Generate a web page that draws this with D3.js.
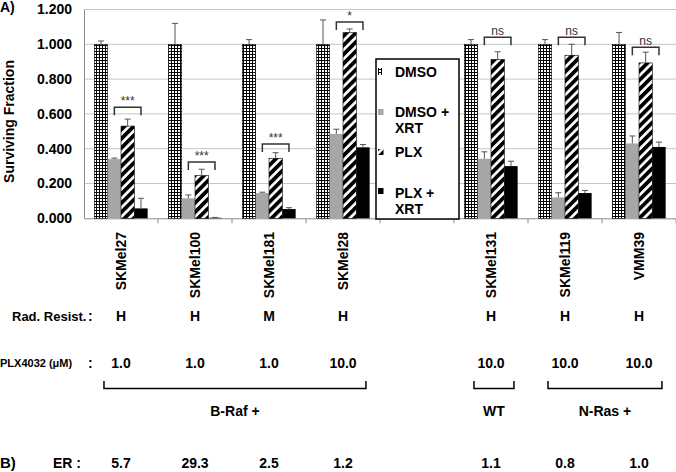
<!DOCTYPE html>
<html>
<head>
<meta charset="utf-8">
<script src="https://cdn.jsdelivr.net/npm/d3@7"></script>
<style>
  html, body { margin: 0; padding: 0; background: #fff; }
  svg { display: block; }
  text { font-family: "Liberation Sans", Arial, sans-serif; }
</style>
</head>
<body>
<svg id="chart" width="676" height="472"></svg>
<script>
// ---------- data ----------
const categories = ["SKMel27", "SKMel100", "SKMel181", "SKMel28", "", "SKMel131", "SKMel119", "VMM39"];
const seriesNames = ["DMSO", "DMSO + XRT", "PLX", "PLX + XRT"];
const dmso      = [1.000, 1.000, 1.000, 1.000, null, 1.000, 1.000, 1.000];
const dmsoXrt   = [0.340, 0.115, 0.145, 0.485, null, 0.342, 0.120, 0.430];
const plx       = [0.530, 0.245, 0.345, 1.068, null, 0.913, 0.937, 0.893];
const plxXrt    = [0.057, 0.003, 0.053, 0.408, null, 0.300, 0.145, 0.410];
const dmsoErr    = [0.019, 0.120, 0.027, 0.140, null, 0.027, 0.027, 0.068];
const dmsoXrtErr = [0.006, 0.019, 0.005, 0.027, null, 0.040, 0.027, 0.043];
const plxErr     = [0.040, 0.037, 0.032, 0.020, null, 0.044, 0.063, 0.062];
const plxXrtErr  = [0.058, 0.002, 0.008, 0.016, null, 0.028, 0.015, 0.028];
const sigLabels  = ["***", "***", "***", "*", null, "ns", "ns", "ns"];
const sigLevels  = [0.638, 0.324, 0.427, 1.128, null, 1.040, 1.040, 0.983];
const yTicks = [0, 0.2, 0.4, 0.6, 0.8, 1.0, 1.2];
const radResist = ["H", "H", "M", "H", null, "H", "H", "H"];
const plxDose   = ["1.0", "1.0", "1.0", "10.0", null, "10.0", "10.0", "10.0"];
const erValues  = ["5.7", "29.3", "2.5", "1.2", null, "1.1", "0.8", "1.0"];
const groupNames = ["B-Raf +", "WT", "N-Ras +"];
const groupFrom  = ["SKMel27", "SKMel131", "SKMel119"];
const groupTo    = ["SKMel28", "SKMel131", "VMM39"];

const seriesValues = [dmso, dmsoXrt, plx, plxXrt];
const seriesErrors = [dmsoErr, dmsoXrtErr, plxErr, plxXrtErr];

// ---------- setup ----------
const svg = d3.select("#chart");
const plotLeft = 84, plotRight = 676, plotTop = 9.5, plotBottom = 218.3;
const x = d3.scaleBand().domain(categories).range([plotLeft, plotRight]).padding(0);
const bw = x.bandwidth();
const xs = d3.scaleBand().domain(seriesNames).range([bw * 0.14, bw * 0.86]).padding(0);
const y = d3.scaleLinear().domain([0, 1.2]).range([plotBottom, plotTop]);

// patterns
const defs = svg.append("defs");
const grid = defs.append("pattern").attr("id", "grid").attr("patternUnits", "userSpaceOnUse")
  .attr("width", 3).attr("height", 3);
grid.append("rect").attr("width", 3).attr("height", 3).attr("fill", "#fff");
grid.append("rect").attr("x", 0).attr("y", 0).attr("width", 1).attr("height", 3).attr("fill", "#000");
grid.append("rect").attr("x", 0).attr("y", 0).attr("width", 3).attr("height", 1).attr("fill", "#000");
const hatch = defs.append("pattern").attr("id", "hatch").attr("patternUnits", "userSpaceOnUse")
  .attr("width", 6.5).attr("height", 6.5).attr("patternTransform", "rotate(45)");
hatch.append("rect").attr("width", 6.5).attr("height", 6.5).attr("fill", "#fff");
hatch.append("rect").attr("x", 0).attr("width", 3.8).attr("height", 6.5).attr("fill", "#000");

const fills = ["url(#grid)", "#a6a6a6", "url(#hatch)", "#000"];
const strokes = ["#000", "none", "#000", "none"];

// gridlines
svg.append("g").selectAll("line").data(yTicks.filter(d => d > 0)).join("line")
  .attr("x1", plotLeft).attr("x2", plotRight).attr("y1", d => y(d)).attr("y2", d => y(d))
  .attr("stroke", "#c6c6c6").attr("stroke-width", 1);

// y axis
const yAxis = svg.append("g").attr("transform", `translate(${plotLeft},0)`)
  .call(d3.axisLeft(y).tickValues(yTicks).tickFormat(d3.format(".3f")).tickSize(0).tickPadding(12));
yAxis.select(".domain").attr("stroke", "#8c8c8c");
yAxis.selectAll("text").attr("font-size", 14).attr("font-weight", "bold")
  .attr("font-family", "Liberation Sans, Arial, sans-serif").attr("fill", "#000");

// x axis
const xAxis = svg.append("g").attr("transform", `translate(0,${plotBottom})`)
  .call(d3.axisBottom(x).tickSize(0).tickFormat(""));
xAxis.select(".domain").attr("stroke", "#8c8c8c");
svg.append("g").selectAll("line").data(categories.slice(1).map(c => x(c)).concat([plotRight]))
  .join("line").attr("x1", d => d).attr("x2", d => d).attr("y1", plotBottom).attr("y2", plotBottom + 5)
  .attr("stroke", "#8c8c8c");

// bars
seriesNames.forEach((s, si) => {
  const g = svg.append("g");
  categories.forEach((c, ci) => {
    const v = seriesValues[si][ci];
    if (v == null) return;
    const bx = x(c) + xs(s);
    g.append("rect").attr("x", bx).attr("y", y(v)).attr("width", xs.bandwidth())
      .attr("height", y(0) - y(v)).attr("fill", fills[si])
      .attr("stroke", strokes[si]).attr("stroke-width", 0.6);
  });
});

// error bars
seriesNames.forEach((s, si) => {
  const g = svg.append("g").attr("stroke", "#555").attr("stroke-width", 1);
  categories.forEach((c, ci) => {
    const v = seriesValues[si][ci], e = seriesErrors[si][ci];
    if (v == null) return;
    const cx = x(c) + xs(s) + xs.bandwidth() / 2;
    g.append("line").attr("x1", cx).attr("x2", cx).attr("y1", y(v)).attr("y2", y(v + e));
    g.append("line").attr("x1", cx - 3).attr("x2", cx + 3).attr("y1", y(v + e)).attr("y2", y(v + e));
  });
});

// significance brackets
categories.forEach((c, ci) => {
  if (sigLabels[ci] == null) return;
  const x1 = x(c) + xs("DMSO + XRT") + xs.bandwidth() / 2;
  const x2 = x(c) + xs("PLX + XRT") + xs.bandwidth() / 2;
  const yy = y(sigLevels[ci]);
  svg.append("path").attr("d", `M${x1},${yy + 8}V${yy}H${x2}V${yy + 8}`)
    .attr("fill", "none").attr("stroke", "#333").attr("stroke-width", 1.5);
  svg.append("text").attr("x", (x1 + x2) / 2).attr("y", yy - 2)
    .attr("text-anchor", "middle").attr("font-size", 12).attr("fill", "#333")
    .text(sigLabels[ci]);
});

// y title
svg.append("text").attr("transform", "translate(14,121.5) rotate(-90)")
  .attr("text-anchor", "middle").attr("font-size", 14).attr("font-weight", "bold")
  .text("Surviving Fraction");

// panel label A)
svg.append("text").attr("x", 0).attr("y", 12).attr("font-family", "Liberation Serif, Times New Roman, serif")
  .attr("font-size", 14).attr("font-weight", "bold").text("A)");

// category labels
svg.append("g").selectAll("text").data(categories.filter(c => c !== "")).join("text")
  .attr("transform", d => `translate(${x(d) + bw / 2 + 5},232) rotate(-90)`)
  .attr("text-anchor", "end").attr("font-size", 14).attr("font-weight", "bold").text(d => d);

// legend
const lg = svg.append("g");
lg.append("rect").attr("x", 376).attr("y", 59).attr("width", 83).attr("height", 160)
  .attr("fill", "#fff").attr("stroke", "#000").attr("stroke-width", 1.5);
const legendLines = [["DMSO"], ["DMSO +", "XRT"], ["PLX"], ["PLX +", "XRT"]];
const legendY = [77, 117, 157, 198];
const swatchY = [68, 109, 149, 188];
seriesNames.forEach((s, i) => {
  lg.append("rect").attr("x", 378).attr("y", swatchY[i]).attr("width", i === 0 ? 4 : 5.5)
    .attr("height", i === 0 ? 7 : 6).attr("fill", fills[i]);
  legendLines[i].forEach((t, j) => {
    lg.append("text").attr("x", 395).attr("y", legendY[i] + j * 16)
      .attr("font-size", 14).attr("font-weight", "bold").text(t);
  });
});

// table rows
const rowValues = (vals, yy) => svg.append("g").selectAll("text")
  .data(categories.map((c, i) => ({ c, v: vals[i] })).filter(d => d.v != null)).join("text")
  .attr("x", d => x(d.c) + bw / 2).attr("y", yy).attr("text-anchor", "middle")
  .attr("font-size", 14).attr("font-weight", "bold").text(d => d.v);

svg.append("text").attr("x", 12).attr("y", 321).attr("font-size", 13).attr("font-weight", "bold").text("Rad. Resist.");
svg.append("text").attr("x", 88).attr("y", 321).attr("font-size", 14).attr("font-weight", "bold").text(":");
rowValues(radResist, 321);

svg.append("text").attr("x", 0).attr("y", 367).attr("font-size", 11).attr("font-weight", "bold").text("PLX4032 (μM)");
svg.append("text").attr("x", 88).attr("y", 368).attr("font-size", 14).attr("font-weight", "bold").text(":");
rowValues(plxDose, 368);

// genotype brackets
groupNames.forEach((gname, i) => {
  const x1 = x(groupFrom[i]) + bw * 0.27;
  const x2 = x(groupTo[i]) + bw * 0.81;
  svg.append("path").attr("d", `M${x1},381V388.5H${x2}V381`).attr("fill", "none")
    .attr("stroke", "#000").attr("stroke-width", 1.5);
  svg.append("text").attr("x", (x1 + x2) / 2).attr("y", 416).attr("text-anchor", "middle")
    .attr("font-size", 14).attr("font-weight", "bold").text(gname);
});

// ER row
svg.append("text").attr("x", 0).attr("y", 468).attr("font-family", "Liberation Serif, Times New Roman, serif")
  .attr("font-size", 15).attr("font-weight", "bold").text("B)");
svg.append("text").attr("x", 53).attr("y", 468).attr("font-size", 14).attr("font-weight", "bold").text("ER :");
rowValues(erValues, 468);
</script>
</body>
</html>
